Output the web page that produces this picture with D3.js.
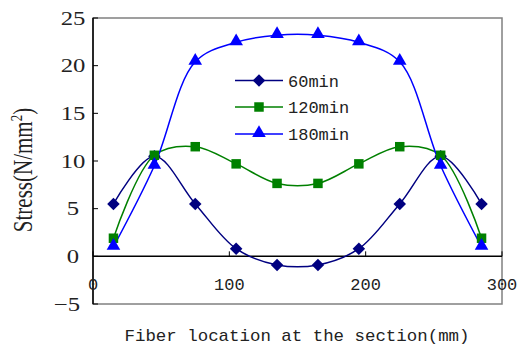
<!DOCTYPE html>
<html><head><meta charset="utf-8">
<script src="https://cdn.jsdelivr.net/npm/d3@7"></script>
<style>body{margin:0;background:#fff}svg{display:block}</style>
</head><body>
<svg id="c" width="517" height="345"></svg>
<script>
const positions = [15,45,75,105,135,165,195,225,255,285];
const s60  = [5.5,10.5,5.5,0.8,-0.9,-0.9,0.8,5.5,10.5,5.5];
const s120 = [1.9,10.6,11.5,9.7,7.65,7.65,9.7,11.5,10.6,1.9];
const s180 = [1.0,9.5,20.4,22.45,23.2,23.2,22.45,20.4,9.5,1.0];
const seriesNames = ["60min","120min","180min"];
const seriesColors = ["#000080","#008000","#0000FF"];
const seriesMarkers = ["diamond","square","triangle"];
const xTicks = [0,100,200,300];
const yTicks = [-5,0,5,10,15,20,25];

const svg = d3.select("#c");
const x = d3.scaleLinear().domain([0,300]).range([93,502]);
const y = d3.scaleLinear().domain([-5,25]).range([304,18]);

svg.append("rect").attr("x",x(0)).attr("y",y(25)).attr("width",x(300)-x(0)).attr("height",y(-5)-y(25))
  .attr("fill","none").attr("stroke","#808080").attr("stroke-width",1.5);
svg.append("line").attr("x1",x(0)).attr("x2",x(0)).attr("y1",y(25)).attr("y2",y(-5)).attr("stroke","#000").attr("stroke-width",1.5);
yTicks.forEach(t=>{
  svg.append("line").attr("x1",x(0)).attr("x2",x(0)+5).attr("y1",y(t)).attr("y2",y(t)).attr("stroke","#000").attr("stroke-width",1);
});
svg.append("line").attr("x1",x(0)).attr("x2",x(300)).attr("y1",y(0)).attr("y2",y(0)).attr("stroke","#000").attr("stroke-width",1.5);
xTicks.forEach(t=>{
  svg.append("line").attr("x1",x(t)).attr("x2",x(t)).attr("y1",y(0)).attr("y2",y(0)-5).attr("stroke","#000").attr("stroke-width",1);
});

yTicks.forEach(t=>{
  const lab = t<0 ? "\u2212"+Math.abs(t) : String(t);
  const g = svg.append("g").attr("transform",`translate(${t<0?67:73},${y(t)+6.5}) scale(1.3,1)`);
  g.append("text").attr("text-anchor","middle").attr("font-family","Liberation Serif, serif").attr("font-size",19)
    .attr("fill","#222").text(lab);
});
xTicks.forEach(t=>{
  svg.append("text").attr("x",x(t)).attr("y",290).attr("text-anchor","middle")
    .attr("font-family","Liberation Mono, monospace").attr("font-size",17).attr("fill","#222").text(t);
});
svg.append("text").attr("x",297).attr("y",341).attr("text-anchor","middle")
  .attr("font-family","Liberation Mono, monospace").attr("font-size",17).attr("fill","#222")
  .attr("textLength",345).attr("lengthAdjust","spacingAndGlyphs")
  .text("Fiber location at the section(mm)");
const yt = svg.append("g").attr("transform","translate(32,170) scale(1.3,1) rotate(-90)")
  .append("text").attr("text-anchor","middle").attr("font-family","Liberation Serif, serif")
  .attr("font-size",21).attr("fill","#222");
yt.append("tspan").text("Stress(N/mm");
yt.append("tspan").attr("dy",-8).attr("font-size",13).text("2");
yt.append("tspan").attr("dy",8).text(")");

const diamondSym = { draw(ctx, size){ const r=Math.sqrt(size)/2*1.414; ctx.moveTo(0,-r); ctx.lineTo(r,0); ctx.lineTo(0,r); ctx.lineTo(-r,0); ctx.closePath(); } };
const symbolFor = m => m==="diamond" ? diamondSym : m==="square" ? d3.symbolSquare : d3.symbolTriangle;
const sizeFor = m => m==="diamond" ? 78 : m==="square" ? 90 : 80;

const data = [s60,s120,s180];
const line = d3.line().x((d,i)=>x(positions[i])).y(d=>y(d)).curve(d3.curveCatmullRom.alpha(0.5));
data.forEach((vals,k)=>{
  svg.append("path").attr("d",line(vals)).attr("fill","none").attr("stroke",seriesColors[k]).attr("stroke-width",1.5);
});
data.forEach((vals,k)=>{
  const sym = d3.symbol().type(symbolFor(seriesMarkers[k])).size(sizeFor(seriesMarkers[k]));
  svg.selectAll(null).data(vals).enter().append("path")
    .attr("d",sym).attr("fill",seriesColors[k])
    .attr("transform",(d,i)=>`translate(${x(positions[i])},${y(d)+(seriesMarkers[k]==="triangle"?-1:0)})`);
});

const legY = [80.5,107,134];
seriesNames.forEach((n,k)=>{
  svg.append("line").attr("x1",235).attr("x2",283).attr("y1",legY[k]).attr("y2",legY[k]).attr("stroke",seriesColors[k]).attr("stroke-width",1.5);
  const sym = d3.symbol().type(symbolFor(seriesMarkers[k])).size(sizeFor(seriesMarkers[k]));
  svg.append("path").attr("d",sym).attr("fill",seriesColors[k]).attr("transform",`translate(259,${legY[k]-(seriesMarkers[k]==="triangle"?1:0)})`);
  svg.append("text").attr("x",288).attr("y",legY[k]+6).attr("font-family","Liberation Mono, monospace")
    .attr("font-size",17).attr("fill","#222").text(n);
});
</script>
</body></html>
